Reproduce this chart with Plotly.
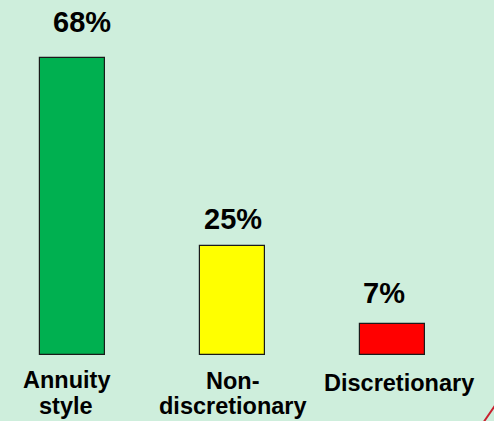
import plotly.graph_objects as go

categories = ["Annuity style", "Non-discretionary", "Discretionary"]
cat_lines = [["Annuity", "style"], ["Non-", "discretionary"], ["Discretionary"]]
values = [68, 25, 7]
value_labels = ["68%", "25%", "7%"]
bar_colors = ["#00B050", "#FFFF00", "#FF0000"]

BG = "#CEEEDC"
W, H = 494, 421
plot_bottom = 355  # pixel y of baseline

fig = go.Figure()
xs = list(range(len(categories)))
fig.add_trace(go.Bar(
    x=xs, y=values, width=0.406,
    marker=dict(color=bar_colors, line=dict(color="#1a1a1a", width=1.2)),
    hoverinfo="skip",
))

# value labels above bars
val_xshift = [10, 0, -9]
val_yshift = [36, 27, 31]
for i, (v, t) in enumerate(zip(values, value_labels)):
    fig.add_annotation(x=i, y=v, text="<b>%s</b>" % t, showarrow=False, xref="x", yref="y",
                       yanchor="middle", xanchor="center",
                       xshift=val_xshift[i], yshift=val_yshift[i],
                       font=dict(family="Arial, Liberation Sans", size=29, color="black"))

# category labels under bars
cat_xshift = [[-6, -6], [0, 0], [6]]
cat_ypix = [[380, 406], [381, 406], [383]]
for i, lines in enumerate(cat_lines):
    for j, ln in enumerate(lines):
        fig.add_annotation(x=i, y=0, text="<b>%s</b>" % ln, showarrow=False,
                           xref="x", yref="paper", yanchor="middle", xanchor="center",
                           xshift=cat_xshift[i][j], yshift=plot_bottom - cat_ypix[i][j],
                           font=dict(family="Arial, Liberation Sans", size=23.5, color="black"))

# small red decorative stroke at bottom-right corner
def px(xp, yp):
    return xp / W, (plot_bottom - yp) / plot_bottom

x0, y0 = px(483, 423)
x1, y1 = px(496, 404)
fig.add_shape(type="line", xref="paper", yref="paper",
              x0=x0, y0=y0, x1=x1, y1=y1,
              line=dict(color="#C8202E", width=2))

fig.update_layout(
    width=W, height=H,
    margin=dict(l=0, r=0, t=0, b=H - plot_bottom, pad=0),
    paper_bgcolor=BG, plot_bgcolor=BG,
    showlegend=False,
    xaxis=dict(range=[-0.453, 2.634], showticklabels=False, showgrid=False,
               zeroline=False, showline=False, ticks=""),
    yaxis=dict(range=[0, plot_bottom / 4.37], showticklabels=False, showgrid=False,
               zeroline=False, showline=False, ticks=""),
    bargap=0,
)

fig.write_html("out.html", config={"displayModeBar": False})
